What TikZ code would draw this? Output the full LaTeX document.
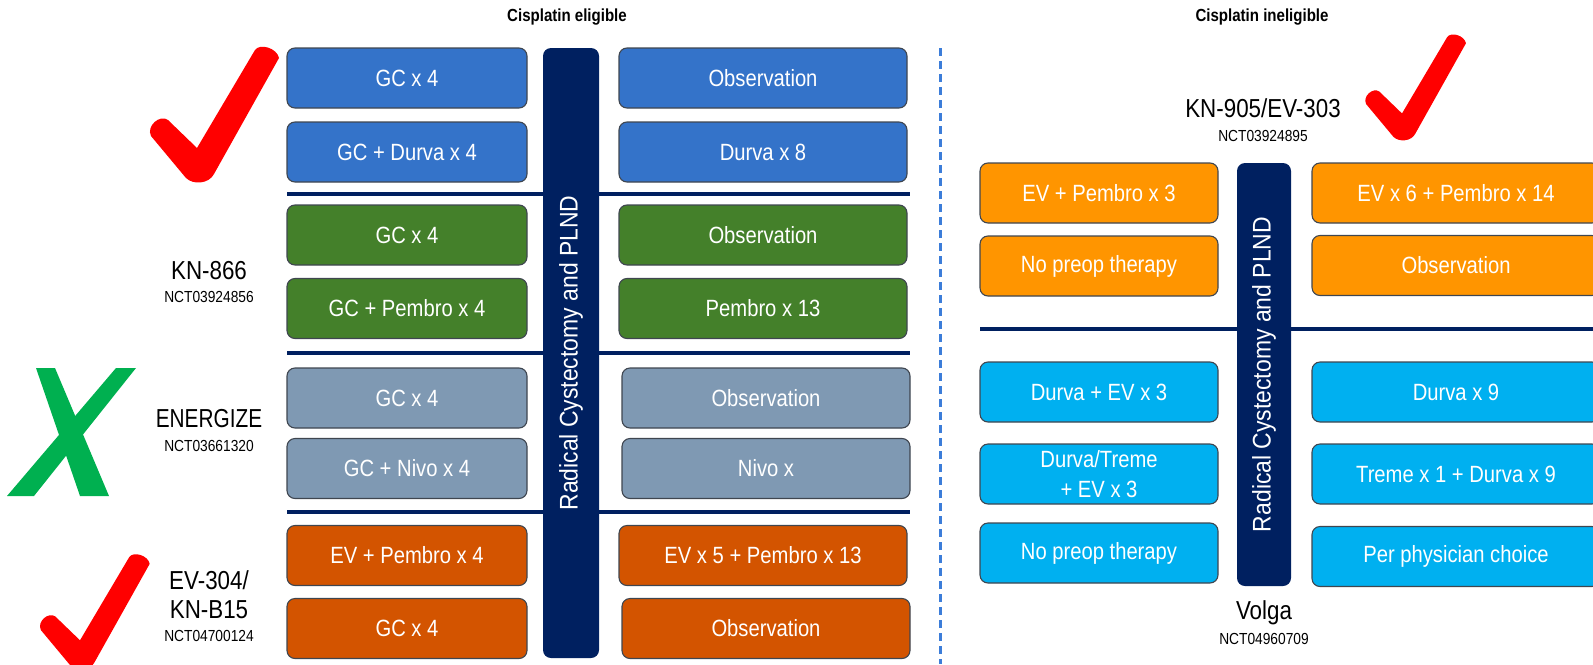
\documentclass[tikz,border=0pt]{standalone}
\usepackage{fontspec}
\setmainfont{Liberation Sans}[FakeStretch=0.86]
\newfontfamily\barfont{Liberation Sans}[FakeStretch=0.9]
\usetikzlibrary{positioning}

\definecolor{boxblue}{HTML}{3473C9}
\definecolor{boxgreen}{HTML}{44802A}
\definecolor{boxgrey}{HTML}{7F99B3}
\definecolor{boxrust}{HTML}{D35400}
\definecolor{boxorange}{HTML}{FF9500}
\definecolor{boxcyan}{HTML}{00B0F0}
\definecolor{boxline}{HTML}{3F4650}
\definecolor{navy}{HTML}{002060}
\definecolor{dashblue}{HTML}{3C7DD9}
\definecolor{tickred}{HTML}{FF0000}
\definecolor{crossgreen}{HTML}{00B050}

% red tick, valley at (#1,#2), scaled by #3
\newcommand{\redtick}[3]{%
  \fill[tickred, shift={(#1,#2)}, scale=#3]
    (0,-2) -- (58,-100) .. controls (63,-107) and (80,-102) .. (82,-92)
    -- (17,24) .. controls (12,34) and (-4,35) .. (-11,28)
    -- (-46,-14) .. controls (-51,-24) and (-37,-36) .. (-29,-30) -- cycle;}

\tikzset{
  arm/.style={draw=boxline, line width=1.1pt, rounded corners=8pt, text=white,
    minimum height=60pt, inner sep=0pt, align=center,
    font=\fontsize{23.5}{30}\selectfont},
  surgery/.style={fill=navy, rounded corners=8pt, text=white, rotate=90,
    inner sep=0pt, font=\barfont\fontsize{25.5}{30}\selectfont},
  divider/.style={navy, line width=3.5pt},
  trial/.style={font=\fontsize{26}{30}\selectfont, inner sep=0pt},
  nct/.style={font=\fontsize{16}{20}\selectfont, inner sep=0pt},
  heading/.style={font=\bfseries\fontsize{17.5}{20}\selectfont, inner sep=0pt}
}

\begin{document}
\begin{tikzpicture}[x=1pt, y=-1pt]
\useasboundingbox (0,0) rectangle (1593,664);

% headings
\node[heading] (elig) at (567,17) {Cisplatin eligible};
\node[heading] (inelig) at (1262,17) {Cisplatin ineligible};

% cisplatin eligible
\draw[divider] (287,194) -- (910,194);
\draw[divider] (287,353) -- (910,353);
\draw[divider] (287,512) -- (910,512);
\node[surgery, minimum width=610, minimum height=56] (rc1) at (571,353) {Radical Cystectomy and PLND};

\node[arm, fill=boxblue, minimum width=240] (niag) at (407,78) {GC x 4};
\node[arm, fill=boxblue, minimum width=240] (niad) at (407,152) {GC + Durva x 4};
\node[arm, fill=boxblue, minimum width=288] (niao) at (763,78) {Observation};
\node[arm, fill=boxblue, minimum width=288] (niaa) at (763,152) {Durva x 8};

\node[arm, fill=boxgreen, minimum width=240] (kng) at (407,235) {GC x 4};
\node[arm, fill=boxgreen, minimum width=240] (knp) at (407,308.5) {GC + Pembro x 4};
\node[arm, fill=boxgreen, minimum width=288] (kno) at (763,235) {Observation};
\node[arm, fill=boxgreen, minimum width=288] (kna) at (763,308.5) {Pembro x 13};

\node[arm, fill=boxgrey, minimum width=240] (eng) at (407,398) {GC x 4};
\node[arm, fill=boxgrey, minimum width=240] (enn) at (407,468.5) {GC + Nivo x 4};
\node[arm, fill=boxgrey, minimum width=288] (eno) at (766,398) {Observation};
\node[arm, fill=boxgrey, minimum width=288] (ena) at (766,468.5) {Nivo x};

\node[arm, fill=boxrust, minimum width=240] (evp) at (407,555.5) {EV + Pembro x 4};
\node[arm, fill=boxrust, minimum width=240] (evg) at (407,628.5) {GC x 4};
\node[arm, fill=boxrust, minimum width=288] (eva) at (763,555.5) {EV x 5 + Pembro x 13};
\node[arm, fill=boxrust, minimum width=288] (evo) at (766,628.5) {Observation};

\node[trial] (kn866) at (209,271) {KN-866};
\node[nct] at (209,297) {NCT03924856};
\node[trial] (energize) at (209,419) {\addfontfeature{FakeStretch=0.8}ENERGIZE};
\node[nct] at (209,446) {NCT03661320};
\node[trial] (ev304) at (209,580) {EV-304/};
\node[trial] (knb15) at (209,610) {KN-B15};
\node[nct] at (209,636) {NCT04700124};

\redtick{197}{150}{1}
\redtick{80}{642}{0.85}
\fill[crossgreen] (36,368) -- (55,368) -- (109,496) -- (80,496) -- cycle;
\fill[crossgreen] (116,368) -- (136,368) -- (34,496) -- (7,496) -- cycle;

% split between the two groups
\draw[dashblue, line width=3pt, dash pattern=on 8pt off 5pt] (940,48) -- (940,664);

% cisplatin ineligible
\draw[divider] (980,329) -- (1593,329);
\node[surgery, minimum width=423, minimum height=54] (rc2) at (1264,374.5) {Radical Cystectomy and PLND};

\node[arm, fill=boxorange, minimum width=238] (kevp) at (1099,193) {EV + Pembro x 3};
\node[arm, fill=boxorange, minimum width=238] (kno2) at (1099,266) {No preop therapy};
\node[arm, fill=boxorange, minimum width=288] (keva) at (1456,193) {EV x 6 + Pembro x 14};
\node[arm, fill=boxorange, minimum width=288] (keo) at (1456,265.5) {Observation};

\node[arm, fill=boxcyan, minimum width=238] (vde) at (1099,392) {Durva + EV x 3};
\node[arm, fill=boxcyan, minimum width=238] (vdt) at (1099,474) {Durva/Treme\\+ EV x 3};
\node[arm, fill=boxcyan, minimum width=238] (vno) at (1099,553) {No preop therapy};
\node[arm, fill=boxcyan, minimum width=288] (vda) at (1456,392) {Durva x 9};
\node[arm, fill=boxcyan, minimum width=288] (vta) at (1456,474) {Treme x 1 + Durva x 9};
\node[arm, fill=boxcyan, minimum width=288] (vpa) at (1456,556.5) {Per physician choice};

\node[trial] (kn905) at (1263,108) {KN-905/EV-303};
\node[nct] at (1263,136) {NCT03924895};
\node[trial] (volga) at (1264,613) {Volga};
\node[nct] at (1264,639) {NCT04960709};

\redtick{1402}{115}{0.78}
\end{tikzpicture}
\end{document}
